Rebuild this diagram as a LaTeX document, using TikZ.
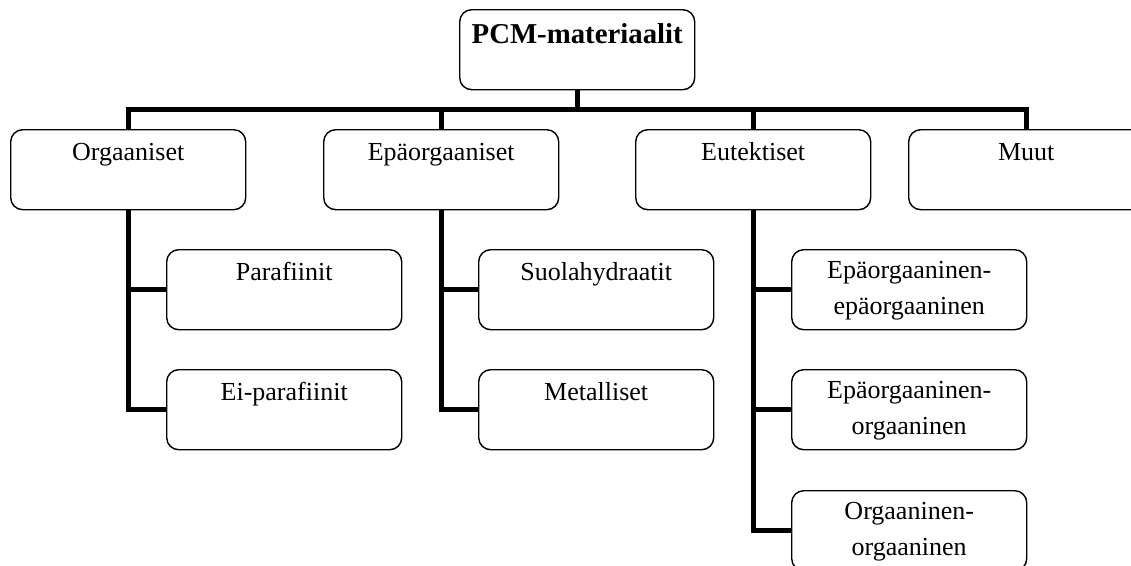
\documentclass[tikz,border=0pt]{standalone}
\usepackage{fontspec}
\setmainfont{Liberation Serif}
\begin{document}
\begin{tikzpicture}[x=1pt,y=-1pt,
  box/.style={draw, line width=1.4pt, rounded corners=12pt, minimum width=235pt,
    minimum height=80pt, inner sep=0pt, anchor=north west},
  lbl/.style={anchor=base, align=center, inner sep=0pt,
    font=\fontsize{26}{36}\selectfont},
  conn/.style={line width=5pt, line join=miter}]
\useasboundingbox (0,0) rectangle (1131,565);
% boxes
\node[box] (top) at (459,9) {};
\node[box] (org) at (10,129) {};
\node[box] (epa) at (323,129) {};
\node[box] (eut) at (635,129) {};
\node[box] (muut) at (908,129) {};
\node[box] (para) at (166,249) {};
\node[box] (eipara) at (166,369) {};
\node[box] (suola) at (478,249) {};
\node[box] (metal) at (478,369) {};
\node[box] (ee) at (791,249) {};
\node[box] (eo) at (791,369) {};
\node[box] (oo) at (791,490) {};
% labels
\node[lbl, font=\fontsize{28.8}{34}\selectfont\bfseries] (ttop) at ([yshift=-34pt]top.north) {PCM-materiaalit};
\node[lbl] (torg) at ([yshift=-31pt]org.north) {Orgaaniset};
\node[lbl] (tepa) at ([yshift=-31pt]epa.north) {Epäorgaaniset};
\node[lbl] (teut) at ([yshift=-31pt]eut.north) {Eutektiset};
\node[lbl] (tmuut) at ([yshift=-31pt]muut.north) {Muut};
\node[lbl] (tpara) at ([yshift=-31pt]para.north) {Parafiinit};
\node[lbl] (teipara) at ([yshift=-31pt]eipara.north) {Ei-parafiinit};
\node[lbl] (tsuola) at ([yshift=-31pt]suola.north) {Suolahydraatit};
\node[lbl] (tmetal) at ([yshift=-31pt]metal.north) {Metalliset};
\node[lbl] (tee) at ([yshift=-65pt]ee.north) {Epäorgaaninen-\\epäorgaaninen};
\node[lbl] (teo) at ([yshift=-65pt]eo.north) {Epäorgaaninen-\\orgaaninen};
\node[lbl] (too) at ([yshift=-65pt]oo.north) {Orgaaninen-\\orgaaninen};
% connectors
\coordinate (bus) at (576.5,109.5);
\draw[conn] (top.south) -- (top.south |- bus);
\draw[conn] (org.north) -- (org.north |- bus) -- (muut.north |- bus) -- (muut.north);
\draw[conn] (epa.north) -- (epa.north |- bus);
\draw[conn] (eut.north) -- (eut.north |- bus);
\draw[conn] (org.south) |- (para.west);
\draw[conn] (org.south) |- (eipara.west);
\draw[conn] (epa.south) |- (suola.west);
\draw[conn] (epa.south) |- (metal.west);
\draw[conn] (eut.south) |- (ee.west);
\draw[conn] (eut.south) |- (eo.west);
\draw[conn] (eut.south) |- (oo.west);
\end{tikzpicture}
\end{document}
